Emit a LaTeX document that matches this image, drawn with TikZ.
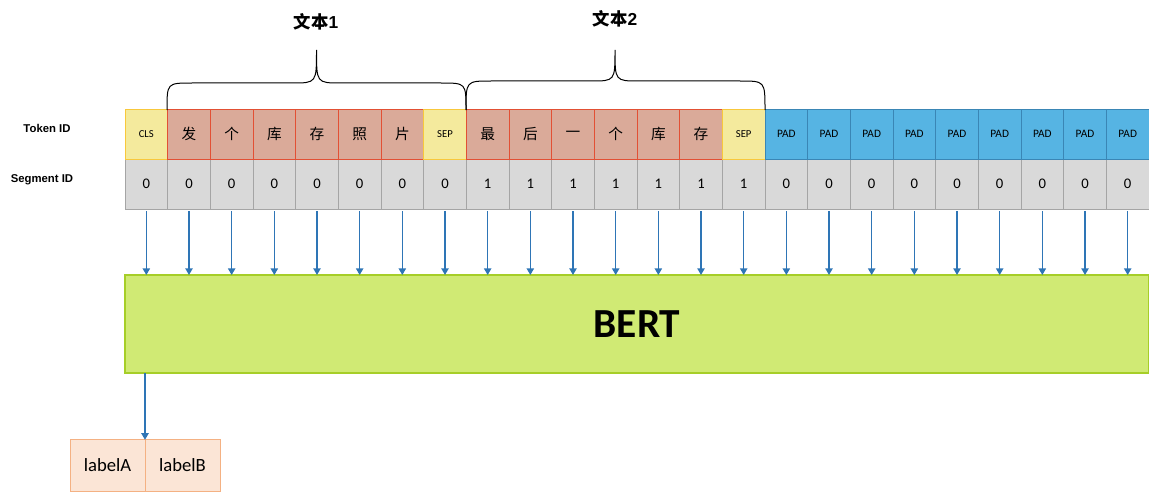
\documentclass[tikz,border=0pt]{standalone}
\usepackage{fontspec}
\setmainfont{Carlito}
\newfontfamily\cjk{Noto Sans CJK SC}
\newfontfamily\arl{Liberation Sans}
\usetikzlibrary{arrows.meta}
\definecolor{yfill}{RGB}{244,234,157}
\definecolor{yedge}{RGB}{248,200,60}
\definecolor{rfill}{RGB}{218,170,153}
\definecolor{redge}{RGB}{226,80,52}
\definecolor{bfill}{RGB}{86,180,227}
\definecolor{bedge}{RGB}{58,134,181}
\definecolor{gfill}{RGB}{217,217,217}
\definecolor{gedge}{RGB}{165,165,165}
\definecolor{bertfill}{RGB}{208,234,116}
\definecolor{bertedge}{RGB}{166,206,40}
\definecolor{arrc}{RGB}{46,117,182}
\definecolor{lfill}{RGB}{251,229,214}
\definecolor{ledge}{RGB}{244,177,131}
\begin{document}
\begin{tikzpicture}[x=0.75pt,y=-0.75pt,
 basecell/.style={minimum width=32pt, minimum height=37.5pt, inner sep=0pt, outer sep=0pt, line width=0.75pt},
 tokc/.style={basecell, fill=yfill, draw=yedge, font=\fontsize{8}{9}\selectfont},
 tokz/.style={basecell, fill=rfill, draw=redge, font=\cjk\fontsize{11}{13}\selectfont},
 tokp/.style={basecell, fill=bfill, draw=bedge, font=\fontsize{8.5}{10}\selectfont},
 segcell/.style={basecell, fill=gfill, draw=gedge, font=\fontsize{11}{13}\selectfont},
 rowlab/.style={font=\arl\bfseries\fontsize{8.5}{10}\selectfont},
 titletext/.style={font=\fontsize{13}{15}\selectfont},
 bracecurve/.style={draw=black, line width=0.75pt},
 arr/.style={draw=arrc, line width=1pt, -{Triangle[width=5.5pt,length=5pt]}},
 labbox/.style={minimum width=56.25pt, minimum height=38.5pt, inner sep=0pt, outer sep=0pt, fill=lfill, draw=ledge, line width=0.75pt, font=\fontsize{14}{16}\selectfont},
 bertbox/.style={minimum width=768pt, minimum height=73.5pt, inner sep=0pt, outer sep=0pt, fill=bertfill, draw=bertedge, line width=0.9pt, font=\bfseries\fontsize{31}{35}\selectfont}
]
\useasboundingbox (0,0) rectangle (1149,492);

% row labels
\node[rowlab] (tl) at (47,128) {Token ID};
\node[rowlab] (sl) at (42,180) {Segment ID};

% segment row
\foreach \v [count=\i] in {0,0,0,0,0,0,0,0,1,1,1,1,1,1,1,0,0,0,0,0,0,0,0,0}
  \node[segcell] (s\i) at ({125+(\i-0.5)*42.667},184) {\v};

% token row
\foreach \k/\t [count=\i] in {c/CLS,z/发,z/个,z/库,z/存,z/照,z/片,c/SEP,z/最,z/后,z/一,z/个,z/库,z/存,c/SEP,p/PAD,p/PAD,p/PAD,p/PAD,p/PAD,p/PAD,p/PAD,p/PAD,p/PAD}
  \node[tok\k] (t\i) at ({125+(\i-0.5)*42.667},134) {\t};

% braces
\draw[bracecurve] (167,110) .. controls (167,83) .. (192,83) -- (292,83) .. controls (316.5,83) .. (316.5,50) .. controls (316.5,83) .. (341,83) -- (441,83) .. controls (466,83) .. (466,110);
\draw[bracecurve] (466,110) .. controls (466,81) .. (491,81) -- (591,81) .. controls (615,81) .. (615,50) .. controls (615,81) .. (639,81) -- (740,81) .. controls (765,81) .. (765,110);
\node[titletext] (txt1) at (316,22) {{\cjk\bfseries 文本}{\arl\bfseries 1}};
\node[titletext] (txt2) at (615,19) {{\cjk\bfseries 文本}{\arl\bfseries 2}};

% BERT
\node[bertbox] (bert) at (637,324) {BERT};

\foreach \i in {1,...,24}
  \draw[arr] ([yshift=-1.5pt]s\i.south) -- (s\i.south |- bert.north);

% labels
\node[labbox] (la) at (107.5,465.5) {labelA};
\node[labbox] (lb) at (182.5,465.5) {labelB};
\draw[arr] (bert.south -| la.north east) -- (la.north east);
\end{tikzpicture}
\end{document}
